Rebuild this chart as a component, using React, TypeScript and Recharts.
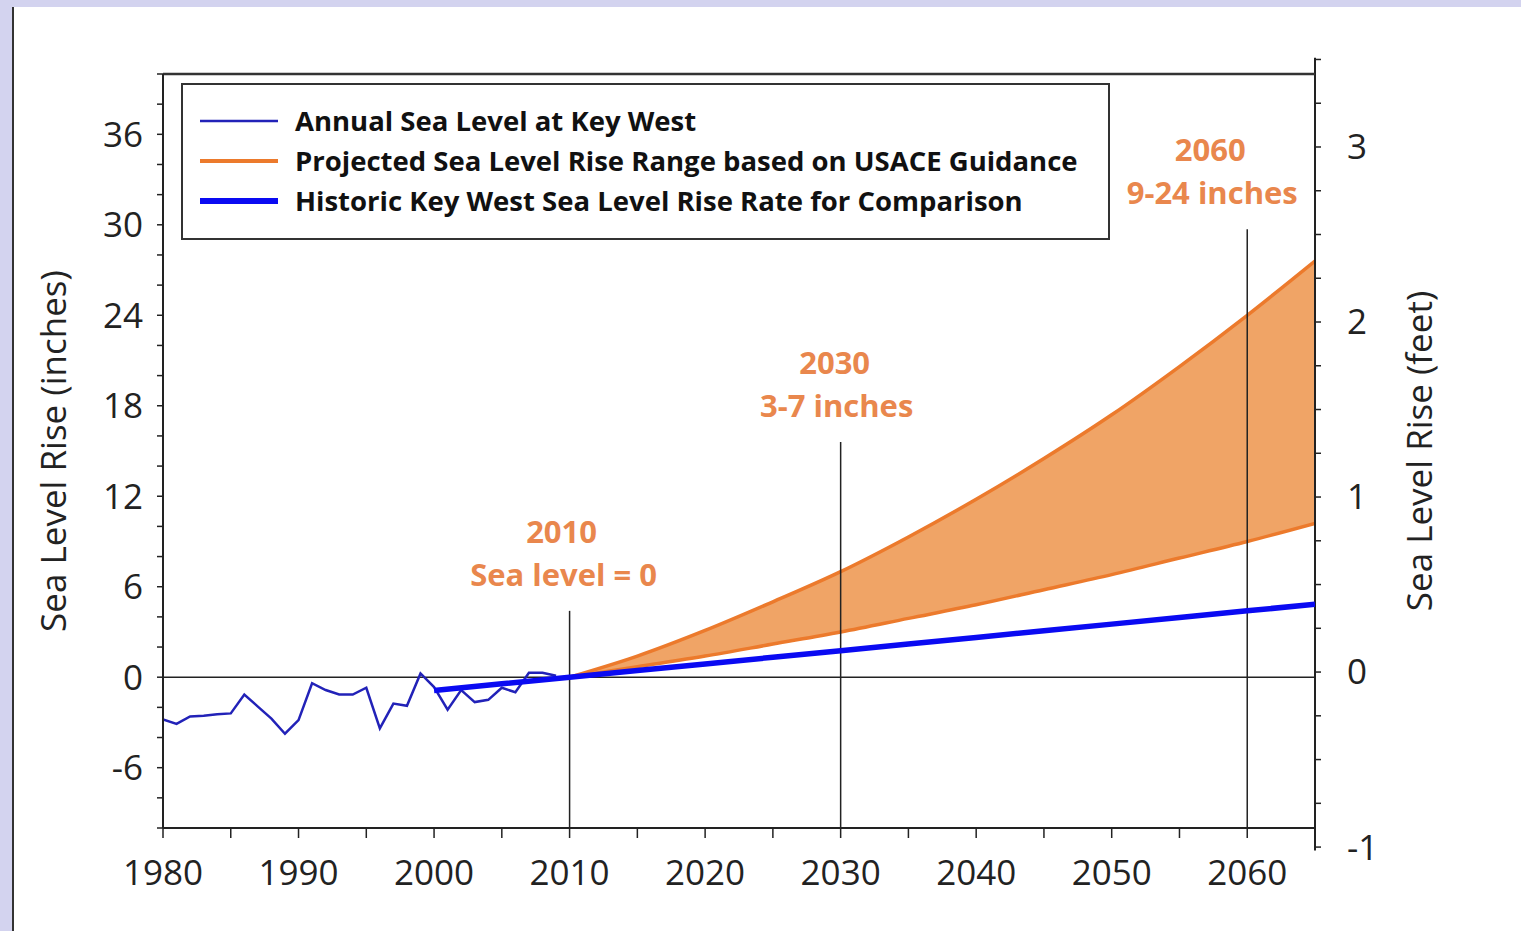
import React from 'react';
import { ComposedChart, Line, Area, XAxis, YAxis, ReferenceLine } from 'recharts';

// annual mean sea level at Key West, inches relative to 2010
const annualYears = [
  1980, 1981, 1982, 1983, 1984, 1985, 1986, 1987, 1988, 1989,
  1990, 1991, 1992, 1993, 1994, 1995, 1996, 1997, 1998, 1999,
  2000, 2001, 2002, 2003, 2004, 2005, 2006, 2007, 2008, 2009,
];
const annualLevel = [
  -2.8, -3.1, -2.6, -2.55, -2.45, -2.4, -1.15, -1.95, -2.75, -3.75,
  -2.85, -0.4, -0.85, -1.15, -1.15, -0.7, -3.4, -1.75, -1.9, 0.25,
  -0.65, -2.15, -0.85, -1.65, -1.5, -0.7, -1.0, 0.3, 0.3, 0.1,
];

// historic rate extended forward
const trendYears = [2000, 2005, 2010, 2015, 2020, 2025, 2030, 2035, 2040, 2045, 2050, 2055, 2060, 2065];
const trendLevel = [-0.88, -0.44, 0, 0.44, 0.88, 1.32, 1.76, 2.2, 2.64, 3.08, 3.52, 3.96, 4.4, 4.84];

// USACE projected range
const projYears = [2010, 2015, 2020, 2025, 2030, 2035, 2040, 2045, 2050, 2055, 2060, 2065];
const projLow = [0, 0.7, 1.4, 2.2, 3.0, 3.9, 4.8, 5.8, 6.8, 7.9, 9.0, 10.2];
const projHigh = [0, 1.4, 3.1, 5.0, 7.0, 9.3, 11.8, 14.5, 17.4, 20.6, 24.0, 27.6];

const xTicks = [1980, 1985, 1990, 1995, 2000, 2005, 2010, 2015, 2020, 2025, 2030, 2035, 2040, 2045, 2050, 2055, 2060, 2065];
const topTicks = [1985, 1995, 2005, 2015, 2025, 2035, 2045, 2055];
const inchTicks = [-10, -8, -6, -4, -2, 0, 2, 4, 6, 8, 10, 12, 14, 16, 18, 20, 22, 24, 26, 28, 30, 32, 34, 36, 38, 40];
const feetTicks = [-1, -0.75, -0.5, -0.25, 0, 0.25, 0.5, 0.75, 1, 1.25, 1.5, 1.75, 2, 2.25, 2.5, 2.75, 3, 3.25, 3.5];

const markYears = [2010, 2030, 2060];
const markTops = [4.4, 15.6, 29.7];
const markTitles = ['2010', '2030', '2060'];
const markNotes = ['Sea level = 0', '3-7 inches', '9-24 inches'];

const legendNames = [
  'Annual Sea Level at Key West',
  'Projected Sea Level Rise Range based on USACE Guidance',
  'Historic Key West Sea Level Rise Rate for Comparison',
];

const FONT = "'Open Sans', sans-serif";
const ANNUAL = '#2222b8';
const TREND = '#0a0af2';
const ORANGE = '#ec7a2c';
const BAND = '#f0a466';
const NOTE = '#e9874d';
const INK = '#222';

const years = Array.from(new Set([...annualYears, ...trendYears, ...projYears])).sort((a, b) => a - b);
const rows = years.map((year) => {
  const a = annualYears.indexOf(year);
  const t = trendYears.indexOf(year);
  const p = projYears.indexOf(year);
  return {
    year,
    annual: a >= 0 ? annualLevel[a] : null,
    trend: t >= 0 ? trendLevel[t] : null,
    low: p >= 0 ? projLow[p] : null,
    high: p >= 0 ? projHigh[p] : null,
    range: p >= 0 ? [projLow[p], projHigh[p]] : null,
  };
});

const markDx = [-6, -4, -35];

const markLabel = (i: number) => (props: any) => {
  const { x, y } = props.viewBox;
  return (
    <text textAnchor="middle" fill={NOTE} fontFamily={FONT} fontWeight={700} fontSize={31}>
      <tspan x={x + markDx[i] - 2} y={y - 68}>{markTitles[i]}</tspan>
      <tspan x={x + markDx[i]} y={y - 25}>{markNotes[i]}</tspan>
    </text>
  );
};

const Legend = () => {
  const swatches = [
    { color: ANNUAL, width: 2.5 },
    { color: ORANGE, width: 4 },
    { color: TREND, width: 6 },
  ];
  return (
    <svg width={930} height={158} style={{ position: 'absolute', left: 181, top: 83 }}>
      <rect x={1} y={1} width={927} height={155} fill="#fff" stroke="#333" strokeWidth={2} />
      {legendNames.map((name, i) => (
        <g key={name}>
          <line x1={19} x2={97} y1={38 + i * 40} y2={38 + i * 40} stroke={swatches[i].color} strokeWidth={swatches[i].width} />
          <text x={114} y={38 + i * 40} dy="0.36em" fontFamily={FONT} fontWeight={700} fontSize={27.5} fill="#111">
            {name}
          </text>
        </g>
      ))}
    </svg>
  );
};

export default function App() {
  return (
    <div style={{ position: 'absolute', left: 0, top: 0, width: 1521, height: 931, background: '#d3d3ef', overflow: 'hidden' }}>
      <div style={{ position: 'absolute', left: 12, top: 7, right: 0, bottom: 0, background: '#fff', borderLeft: '2px solid #333' }} />
      <div style={{ position: 'absolute', left: 0, top: 0 }}>
        <ComposedChart width={1521} height={931} data={rows} margin={{ top: 44, right: 0, bottom: 43, left: 0 }}>
          <XAxis
            xAxisId="b"
            dataKey="year"
            type="number"
            domain={[1980, 2065]}
            ticks={xTicks}
            interval={0}
            allowDataOverflow
            tickFormatter={(v: number) => (v % 10 === 0 && v < 2065 ? String(v) : '')}
            height={60}
            tickSize={10}
            tickMargin={22}
            axisLine={{ stroke: INK, strokeWidth: 2 }}
            tickLine={{ stroke: INK, strokeWidth: 1.5 }}
            tick={{ fill: INK, fontSize: 35, fontFamily: FONT }}
          />
          <XAxis
            xAxisId="t"
            orientation="top"
            dataKey="year"
            type="number"
            domain={[1980, 2065]}
            ticks={topTicks}
            interval={0}
            allowDataOverflow
            tick={false}
            height={30}
            tickSize={-7}
            axisLine={{ stroke: '#333', strokeWidth: 2.5 }}
            tickLine={{ stroke: '#333', strokeWidth: 1.5 }}
          />
          <YAxis
            yAxisId="in"
            domain={[-10, 40]}
            ticks={inchTicks}
            interval={0}
            allowDataOverflow
            width={163}
            tickSize={6}
            tickMargin={14}
            tickFormatter={(v: number) => (v % 6 === 0 && v > -10 && v < 40 ? String(v) : '')}
            axisLine={{ stroke: INK, strokeWidth: 2 }}
            tickLine={{ stroke: INK, strokeWidth: 1.5 }}
            tick={{ fill: INK, fontSize: 35, fontFamily: FONT }}
            label={(p: any) => (
              <text
                x={p.viewBox.x + 52}
                y={p.viewBox.y + p.viewBox.height / 2}
                transform={`rotate(-90 ${p.viewBox.x + 52} ${p.viewBox.y + p.viewBox.height / 2})`}
                textAnchor="middle"
                dominantBaseline="central"
                fontFamily={FONT}
                fontSize={35}
                fill={INK}
              >
                Sea Level Rise (inches)
              </text>
            )}
          />
          <YAxis
            yAxisId="ft"
            orientation="right"
            domain={[-0.891, 3.417]}
            ticks={feetTicks}
            interval={0}
            allowDataOverflow
            width={206}
            tickSize={6}
            tickMargin={26}
            tickFormatter={(v: number) => (Number.isInteger(v) ? String(v) : '')}
            axisLine={false}
            tickLine={{ stroke: INK, strokeWidth: 1.5 }}
            tick={{ fill: INK, fontSize: 35, fontFamily: FONT }}
            label={(p: any) => (
              <text
                x={p.viewBox.x + 103}
                y={p.viewBox.y + p.viewBox.height / 2}
                transform={`rotate(-90 ${p.viewBox.x + 103} ${p.viewBox.y + p.viewBox.height / 2})`}
                textAnchor="middle"
                dominantBaseline="central"
                fontFamily={FONT}
                fontSize={35}
                fill={INK}
              >
                Sea Level Rise (feet)
              </text>
            )}
          />

          <Area
            xAxisId="b"
            yAxisId="in"
            dataKey="range"
            type="monotone"
            fill={BAND}
            fillOpacity={1}
            stroke="none"
            connectNulls
            isAnimationActive={false}
          />
          <Line xAxisId="b" yAxisId="in" dataKey="low" type="monotone" stroke={ORANGE} strokeWidth={3.5} dot={false} connectNulls isAnimationActive={false} />
          <Line xAxisId="b" yAxisId="in" dataKey="high" type="monotone" stroke={ORANGE} strokeWidth={3.5} dot={false} connectNulls isAnimationActive={false} />

          <ReferenceLine xAxisId="b" yAxisId="in" y={0} stroke={INK} strokeWidth={1.5} />
          {markYears.map((yr, i) => (
            <ReferenceLine
              key={yr}
              xAxisId="b"
              yAxisId="in"
              segment={[{ x: yr, y: -10 }, { x: yr, y: markTops[i] }]}
              stroke={INK}
              strokeWidth={1.5}
              label={markLabel(i)}
            />
          ))}
          <ReferenceLine
            xAxisId="b"
            yAxisId="ft"
            segment={[{ x: 2065, y: -1.02 }, { x: 2065, y: 3.51 }]}
            stroke={INK}
            strokeWidth={2}
            ifOverflow="visible"
          />

          <Line xAxisId="b" yAxisId="in" dataKey="annual" type="linear" stroke={ANNUAL} strokeWidth={2.5} dot={false} connectNulls isAnimationActive={false} />
          <Line xAxisId="b" yAxisId="in" dataKey="trend" type="linear" stroke={TREND} strokeWidth={5.5} dot={false} connectNulls isAnimationActive={false} />
        </ComposedChart>
        <Legend />
      </div>
    </div>
  );
}
